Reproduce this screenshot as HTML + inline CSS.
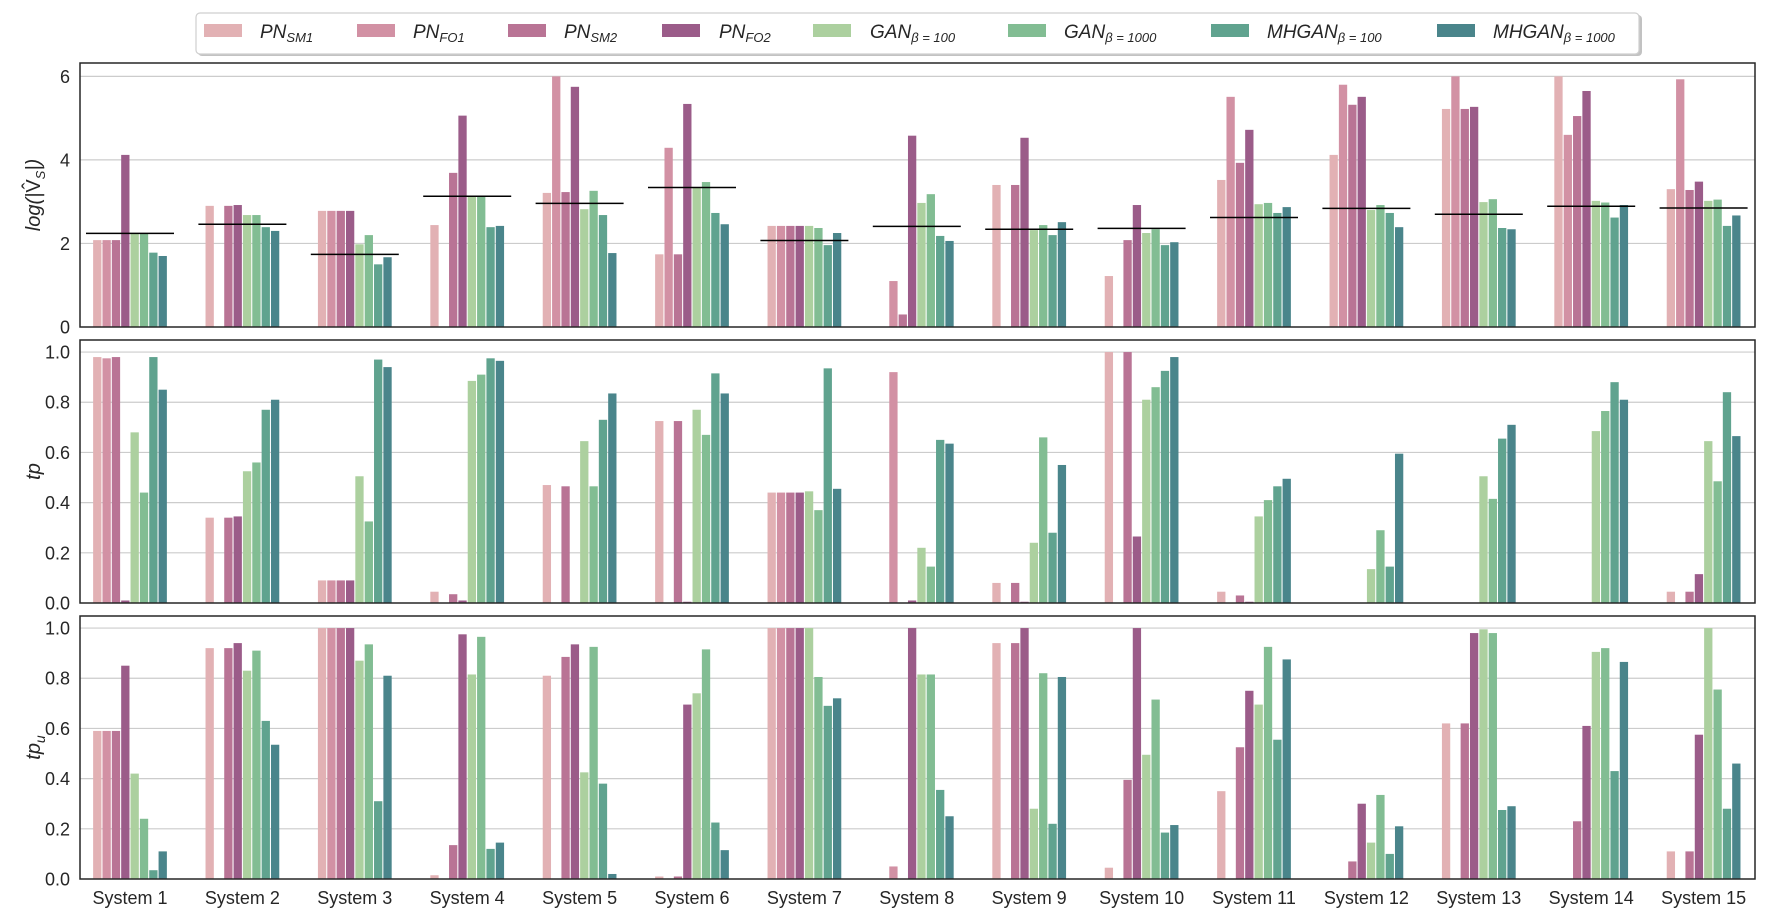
<!DOCTYPE html>
<html><head><meta charset="utf-8"><style>
html,body{margin:0;padding:0;background:#fff}
svg{display:block;font-family:"Liberation Sans",sans-serif}
</style></head><body>
<svg id="chart" width="1774" height="918" xmlns="http://www.w3.org/2000/svg"></svg>
<script>
const categories = ["System 1","System 2","System 3","System 4","System 5","System 6","System 7","System 8","System 9","System 10","System 11","System 12","System 13","System 14","System 15"];
const seriesNames = ["PN_SM1","PN_FO1","PN_SM2","PN_FO2","GAN100","GAN1000","MHGAN100","MHGAN1000"];
const logVals = [
 [2.08,2.08,2.08,4.12,2.24,2.24,1.78,1.70],
 [2.9,0,2.9,2.92,2.68,2.68,2.39,2.30],
 [2.78,2.78,2.78,2.78,1.98,2.2,1.5,1.67],
 [2.44,0,3.69,5.06,3.13,3.13,2.39,2.42],
 [3.21,6.0,3.23,5.75,2.82,3.26,2.68,1.77],
 [1.74,4.29,1.74,5.34,3.34,3.47,2.73,2.46],
 [2.42,2.42,2.42,2.42,2.42,2.37,1.96,2.25],
 [0,1.1,0.3,4.58,2.97,3.18,2.18,2.06],
 [3.4,0,3.4,4.53,2.32,2.44,2.2,2.51],
 [1.22,0,2.08,2.92,2.25,2.34,1.96,2.03],
 [3.52,5.51,3.93,4.72,2.94,2.97,2.73,2.87],
 [4.12,5.8,5.32,5.51,2.8,2.92,2.73,2.39],
 [5.22,6.0,5.22,5.27,2.99,3.06,2.37,2.34],
 [6.0,4.6,5.05,5.65,3.02,2.98,2.62,2.92],
 [3.3,5.93,3.28,3.48,3.02,3.05,2.42,2.67]
];
const refLine = [2.24,2.46,1.74,3.13,2.96,3.34,2.07,2.41,2.34,2.36,2.62,2.84,2.7,2.89,2.85];
const tpVals = [
 [.98,.975,.98,.01,.68,.44,.98,.85],
 [.34,0,.34,.345,.525,.56,.77,.81],
 [.09,.09,.09,.09,.505,.325,.97,.94],
 [.045,0,.035,.01,.885,.91,.975,.965],
 [.47,0,.465,0,.645,.465,.73,.835],
 [.725,0,.725,.005,.77,.67,.915,.835],
 [.44,.44,.44,.44,.445,.37,.935,.455],
 [0,.92,0,.01,.22,.145,.65,.635],
 [.08,0,.08,.005,.24,.66,.28,.55],
 [1.0,0,1.0,.265,.81,.86,.925,.98],
 [.045,0,.03,.005,.345,.41,.465,.495],
 [0,0,0,0,.135,.29,.145,.595],
 [0,0,0,0,.505,.415,.655,.71],
 [0,0,0,0,.685,.765,.88,.81],
 [.045,0,.045,.115,.645,.485,.84,.665]
];
const tpuVals = [
 [.59,.59,.59,.85,.42,.24,.035,.11],
 [.92,0,.92,.94,.83,.91,.63,.535],
 [1,1,1,1,.87,.935,.31,.81],
 [.015,0,.135,.975,.815,.965,.12,.145],
 [.81,0,.885,.935,.425,.925,.38,.02],
 [.01,0,.01,.695,.74,.915,.225,.115],
 [1,1,1,1,1,.805,.69,.72],
 [0,.05,0,1.0,.815,.815,.355,.25],
 [.94,0,.94,1.0,.28,.82,.22,.805],
 [.045,0,.395,1.0,.495,.715,.185,.215],
 [.35,0,.525,.75,.695,.925,.555,.875],
 [0,0,.07,.3,.145,.335,.1,.21],
 [.62,0,.62,.98,.995,.98,.275,.29],
 [0,0,.23,.61,.905,.92,.43,.865],
 [.11,0,.11,.575,1.0,.755,.28,.46]
];
const logTicks = [0,2,4,6];
const tpTicks = ["0.0","0.2","0.4","0.6","0.8","1.0"];

const colors = ["#e2b1b4","#d291a4","#b97495","#9b5c89","#acd09f","#82bd93","#60a38f","#4a858b"];
const NS="http://www.w3.org/2000/svg";
const svg=document.getElementById('chart');
function el(tag,attrs,parent){const e=document.createElementNS(NS,tag);for(const k in attrs)e.setAttribute(k,attrs[k]);(parent||svg).appendChild(e);return e;}

const L=80,R=1755;
const panels=[
 {name:"log-panel",top:63,bot:327,vmax:6.32,data:logVals,ticks:logTicks.map(String),tickVals:logTicks,title:"log"},
 {name:"tp-panel",top:340,bot:603,vmax:1.048,data:tpVals,ticks:tpTicks,tickVals:tpTicks.map(Number),title:"tp"},
 {name:"tpu-panel",top:616,bot:879,vmax:1.048,data:tpuVals,ticks:tpTicks,tickVals:tpTicks.map(Number),title:"tpu"}
];
function xCenter(i){return 130+112.4*i;}
const slot=9.35, barW=8.3;

panels.forEach((p,pi)=>{
  const g=el('g',{});
  
  
  const y=v=>p.bot-(v/p.vmax)*(p.bot-p.top);
  // grid + ticks
  p.tickVals.forEach((tv,ti)=>{
    if(tv>0){const gl=el('line',{x1:L,x2:R,y1:y(tv),y2:y(tv),stroke:'#cccccc','stroke-width':1.2},g);
      }
    const t=el('text',{x:70,y:y(tv)+6.5,'text-anchor':'end','font-size':18,fill:'#262626'},g);
    t.textContent=p.ticks[ti];
    
  });
  // bars
  p.data.forEach((row,ci)=>{
    row.forEach((v,si)=>{
      if(v<=0)return;
      const x=xCenter(ci)+(si-3.5)*slot-barW/2;
      const b=el('rect',{x:x,y:y(v),width:barW,height:p.bot-y(v),fill:colors[si]},g);
      
      
    });
  });
  if(pi===0){
    refLine.forEach((v,ci)=>{
      const ln=el('line',{x1:xCenter(ci)-44,x2:xCenter(ci)+44,y1:y(v),y2:y(v),stroke:'#000','stroke-width':1.5},g);
      
    });
  }
  const fr=el('rect',{x:L,y:p.top,width:R-L,height:p.bot-p.top,fill:'none',stroke:'#262626','stroke-width':1.5},g);
  
  // axis title
  const cy=(p.top+p.bot)/2;
  const tt=el('text',{x:0,y:0,transform:`translate(40,${cy}) rotate(-90)`,'text-anchor':'middle','font-size':20,'font-style':'italic',fill:'#262626'},g);
  
  if(p.title==='log'){tt.innerHTML='log(|<tspan font-style="normal">V̂</tspan><tspan font-size="13" dy="5">S</tspan><tspan dy="-5">|)</tspan>';}
  else if(p.title==='tp'){tt.textContent='tp';}
  else{tt.innerHTML='tp<tspan font-size="14" dy="5">u</tspan>';}
});
// x labels
categories.forEach((c,ci)=>{
  const t=el('text',{x:xCenter(ci),y:904,'text-anchor':'middle','font-size':18,fill:'#262626'});
  t.textContent=c;
  
});
</script>
<svg style="position:absolute;left:0;top:0" width="1774" height="60">
  <rect x="198" y="15" width="1444" height="41" rx="4" fill="#9a9a9a" opacity="0.6"/>
  <rect x="196" y="13" width="1443" height="41" rx="4" fill="#fff" stroke="#cfcfcf" stroke-width="1.2"/>
  <g font-family="Liberation Sans, sans-serif" font-size="19" font-style="italic" fill="#262626">
    <g><rect x="204" y="24" width="38" height="13" fill="#e2b1b4"/><text x="260" y="38">PN<tspan font-size="13" dy="4">SM1</tspan></text></g>
    <g><rect x="357" y="24" width="38" height="13" fill="#d291a4"/><text x="413" y="38">PN<tspan font-size="13" dy="4">FO1</tspan></text></g>
    <g><rect x="508" y="24" width="38" height="13" fill="#b97495"/><text x="564" y="38">PN<tspan font-size="13" dy="4">SM2</tspan></text></g>
    <g><rect x="662" y="24" width="38" height="13" fill="#9b5c89"/><text x="719" y="38">PN<tspan font-size="13" dy="4">FO2</tspan></text></g>
    <g><rect x="813" y="24" width="38" height="13" fill="#acd09f"/><text x="870" y="38">GAN<tspan font-size="13" dy="4">β = 100</tspan></text></g>
    <g><rect x="1008" y="24" width="38" height="13" fill="#82bd93"/><text x="1064" y="38">GAN<tspan font-size="13" dy="4">β = 1000</tspan></text></g>
    <g><rect x="1211" y="24" width="38" height="13" fill="#60a38f"/><text x="1267" y="38">MHGAN<tspan font-size="13" dy="4">β = 100</tspan></text></g>
    <g><rect x="1437" y="24" width="38" height="13" fill="#4a858b"/><text x="1493" y="38">MHGAN<tspan font-size="13" dy="4">β = 1000</tspan></text></g>
  </g>
</svg>
</body></html>
